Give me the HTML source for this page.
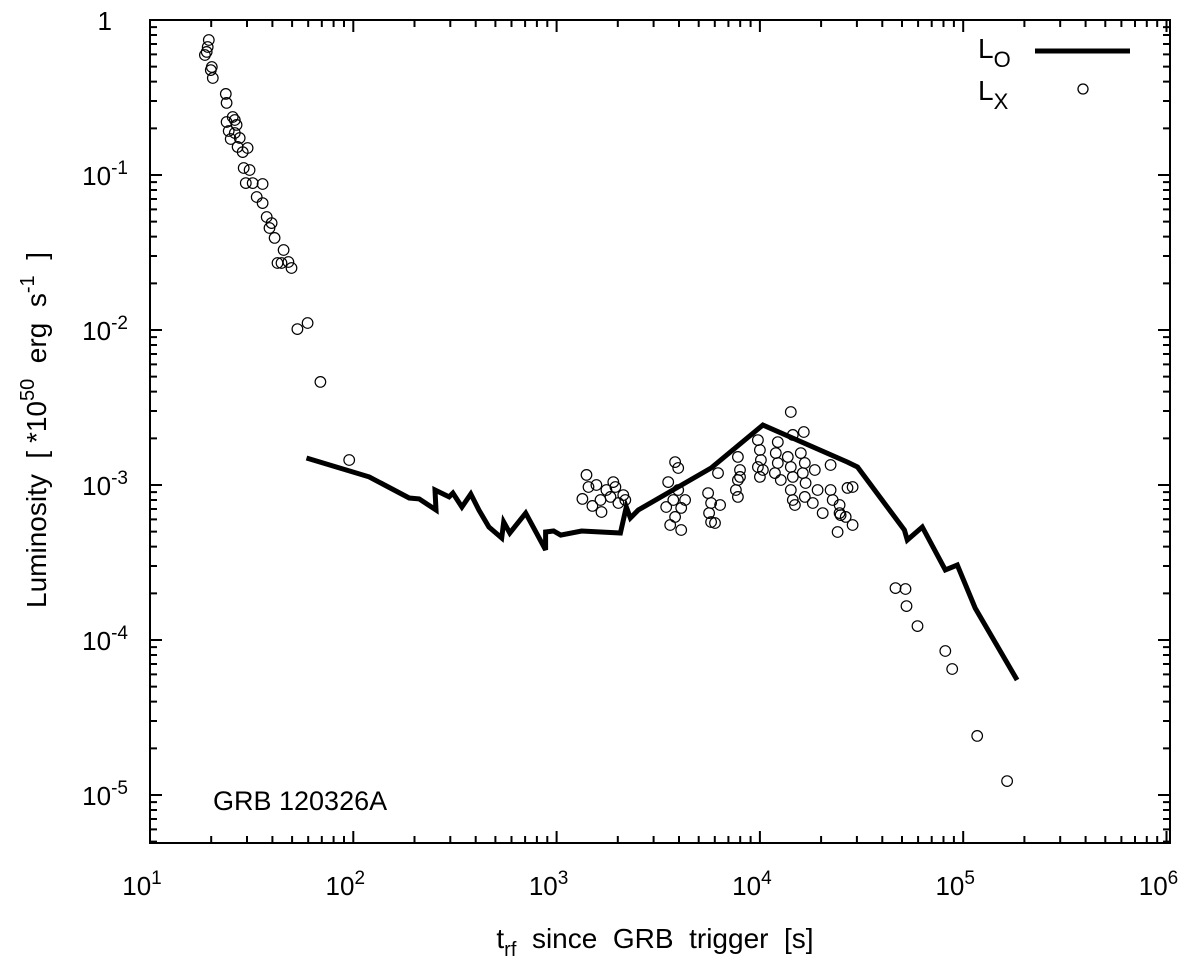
<!DOCTYPE html>
<html><head><meta charset="utf-8"><style>
body{margin:0;background:#fff;}
svg{display:block;font-family:"Liberation Sans",sans-serif;}
</style></head><body>
<svg id="chart" width="1200" height="964" viewBox="0 0 1200 964" xmlns="http://www.w3.org/2000/svg">
<rect width="1200" height="964" fill="#fff"/>
<g id="ticks"></g>
<g id="labels"></g>
<polyline id="lo-line" fill="none" stroke="#000" stroke-width="5" stroke-linejoin="miter"/>
<g id="points"></g>
<rect x="150" y="20" width="1020" height="823" fill="none" stroke="#000" stroke-width="2"/>
<text transform="translate(46,430) rotate(-90)" text-anchor="middle" font-size="28" xml:space="preserve">Luminosity  [ *10<tspan dy="-12" font-size="20">50</tspan><tspan dy="12">  erg  s</tspan><tspan dy="-12" font-size="20">-1</tspan><tspan dy="12">  ]</tspan></text>
<text x="655" y="948" text-anchor="middle" font-size="28" xml:space="preserve">t<tspan dy="8" font-size="20">rf</tspan><tspan dy="-8">  since  GRB  trigger  [s]</tspan></text>
<text x="213" y="810" font-size="27">GRB 120326A</text>
<g>
<text x="978" y="58" font-size="28">L<tspan dy="9" font-size="22">O</tspan></text>
<line x1="1035" y1="51" x2="1130" y2="51" stroke="#000" stroke-width="5"/>
<text x="978" y="100" font-size="28">L<tspan dy="9" font-size="22">X</tspan></text>
<circle cx="1083" cy="89" r="5" fill="none" stroke="#000" stroke-width="1.3"/>
</g>
</svg>
<script>
// log10 of time (s) and luminosity (1e50 erg/s)
const loLogT=[1.770,2.078,2.275,2.324,2.407,2.402,2.471,2.490,2.534,2.578,2.618,2.667,2.730,2.740,2.770,2.848,2.946,2.946,2.985,3.020,3.123,3.314,3.343,3.363,3.402,3.760,4.015,4.431,4.480,4.711,4.725,4.799,4.912,4.971,5.059,5.265];
const loLogL=[-2.826,-2.948,-3.084,-3.090,-3.161,-3.032,-3.077,-3.052,-3.142,-3.058,-3.161,-3.271,-3.342,-3.239,-3.310,-3.181,-3.419,-3.303,-3.297,-3.323,-3.297,-3.310,-3.142,-3.213,-3.161,-2.890,-2.613,-2.852,-2.884,-3.290,-3.355,-3.271,-3.548,-3.516,-3.794,-4.258];
const lxLogT=[1.289,1.284,1.279,1.270,1.304,1.299,1.309,1.373,1.377,1.407,1.417,1.377,1.426,1.387,1.417,1.397,1.441,1.431,1.480,1.456,1.461,1.490,1.471,1.505,1.554,1.525,1.554,1.574,1.598,1.588,1.613,1.657,1.627,1.647,1.681,1.696,1.725,1.775,1.838,1.980,
3.147,3.157,3.127,3.176,3.196,3.221,3.245,3.265,3.279,3.304,3.328,3.289,3.216,3.338,
3.583,3.598,3.549,3.539,3.574,3.613,3.632,3.559,3.613,3.583,3.598,
3.745,3.760,3.804,3.750,3.760,3.779,3.794,
3.892,3.902,3.892,3.882,3.892,3.902,
3.990,4.000,4.005,3.990,4.000,4.015,
4.088,4.078,4.088,4.074,4.103,4.152,4.162,4.216,4.137,4.152,4.162,4.152,4.162,4.172,4.201,4.221,4.211,4.225,4.221,4.270,4.284,4.260,4.309,4.348,4.348,4.358,4.392,4.397,4.431,4.456,4.422,4.456,4.382,4.392,
4.667,4.716,4.721,4.775,4.912,4.946,5.069,5.216];
const lxLogL=[-0.129,-0.174,-0.206,-0.226,-0.303,-0.323,-0.374,-0.477,-0.535,-0.626,-0.645,-0.658,-0.677,-0.716,-0.729,-0.768,-0.761,-0.819,-0.826,-0.852,-0.955,-0.968,-1.052,-1.052,-1.058,-1.142,-1.181,-1.271,-1.310,-1.342,-1.406,-1.484,-1.568,-1.568,-1.561,-1.600,-1.994,-1.955,-2.335,-2.839,
-2.935,-3.013,-3.090,-3.135,-3.000,-3.174,-3.032,-3.077,-2.981,-3.116,-3.065,-3.013,-3.097,-3.097,
-2.852,-2.890,-2.981,-3.142,-3.097,-3.148,-3.097,-3.258,-3.290,-3.206,-3.032,
-3.052,-3.116,-3.129,-3.181,-3.239,-3.245,-2.923,
-2.819,-2.903,-2.968,-3.032,-3.077,-2.948,
-2.710,-2.774,-2.839,-2.884,-2.948,-2.903,
-2.723,-2.794,-2.858,-2.923,-2.968,-2.529,-2.677,-2.658,-2.819,-2.884,-2.948,-3.032,-3.097,-3.129,-2.794,-2.858,-2.923,-2.987,-3.077,-2.903,-3.032,-3.116,-3.181,-2.871,-3.032,-3.097,-3.129,-3.194,-3.019,-3.013,-3.206,-3.258,-3.303,-3.181,
-3.665,-3.671,-3.781,-3.910,-4.071,-4.187,-4.619,-4.910];
const xTickExp=[1,2,3,4,5,6];
const yTickExp=[0,-1,-2,-3,-4,-5];

const NS="http://www.w3.org/2000/svg";
const X0=150,XDEC=203.3,Y0=20,YDEC=155,XR=1170,YB=843;
function sx(lt){return X0+(lt-1)*XDEC;}
function sy(ll){return Y0-ll*YDEC;}
function mk(tag,attrs,parent){const e=document.createElementNS(NS,tag);for(const k in attrs)e.setAttribute(k,attrs[k]);parent.appendChild(e);return e;}

const ticks=document.getElementById('ticks');
let d="";
for(let e=1;e<=6;e++){for(let m=1;m<=9;m++){const lt=e+Math.log10(m);if(lt>6.0001)break;const x=sx(lt);const L=m===1?12:7;
d+=`M${x},${YB}v${-L}M${x},${Y0}v${L}`;}}
for(let e=-6;e<=0;e++){for(let m=1;m<=9;m++){const ll=e+Math.log10(m);if(ll>0.0001||ll<-5.31)continue;const y=sy(ll);const L=m===1?12:7;
d+=`M${X0},${y}h${L}M${XR},${y}h${-L}`;}}
const tp=mk('path',{d:d,stroke:'#000','stroke-width':2,fill:'none'},ticks);



const labels=document.getElementById('labels');
xTickExp.forEach(e=>{const t=mk('text',{x:sx(e)-8,y:895,'text-anchor':'middle','font-size':26},labels);


t.innerHTML=`10<tspan dy="-11" font-size="19">${e}</tspan>`;});
yTickExp.forEach(e=>{const t=mk('text',{x:e===0?112:128,y:sy(e)+10,'text-anchor':'end','font-size':26},labels);


t.innerHTML=e===0?'1':`10<tspan dy="-11" font-size="19">${e}</tspan>`;});

document.getElementById('lo-line').setAttribute('points',loLogT.map((t,i)=>sx(t).toFixed(1)+','+sy(loLogL[i]).toFixed(1)).join(' '));

const pts=document.getElementById('points');
lxLogT.forEach((t,i)=>{const c=mk('circle',{cx:sx(t).toFixed(1),cy:sy(lxLogL[i]).toFixed(1),r:5.3,fill:'none',stroke:'#000','stroke-width':1.2},pts);

});
</script>
</body></html>
